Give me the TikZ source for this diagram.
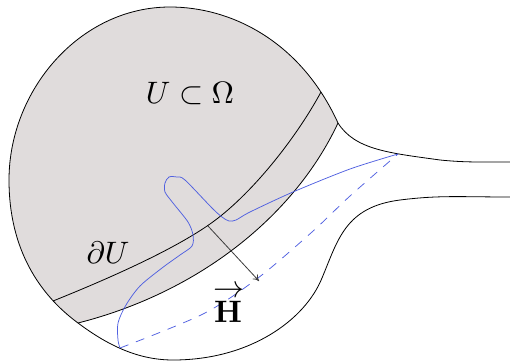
\documentclass[tikz,border=0pt]{standalone}
\usetikzlibrary{arrows.meta}
\definecolor{ufill}{RGB}{224,220,220}
\definecolor{curveblue}{RGB}{80,96,224}
\definecolor{arrowgray}{RGB}{60,60,60}
\tikzset{
  edge/.style={line width=0.8pt, black},
  bluecurve/.style={line width=0.75pt, curveblue},
  bluedash/.style={line width=0.75pt, curveblue, dash pattern=on 9pt off 8pt},
  harrow/.style={line width=0.8pt, arrowgray, -{To[length=6pt,width=7pt]}},
  biglabel/.style={scale=3.1, inner sep=0pt}
}
\begin{document}
\begin{tikzpicture}[x=1pt, y=-1pt]
\useasboundingbox (0,0) rectangle (510,361);
% shaded region U
\fill[ufill] (78,323) .. controls (200,292) and (295,215) .. (338,123)
  .. controls (300,40) and (230,7) .. (170,7)
  .. controls (80,7) and (9,90) .. (9,180)
  .. controls (9,250) and (40,295) .. (78,323) -- cycle;
% outer boundary
\draw[edge] (511,162) .. controls (480,162) and (465,162.5) .. (440,160)
  .. controls (390,153) and (355,150) .. (338,123)
  .. controls (300,40) and (230,7) .. (170,7)
  .. controls (80,7) and (9,90) .. (9,180)
  .. controls (9,250) and (40,295) .. (78,323)
  .. controls (110,347) and (140,360) .. (173,360)
  .. controls (250,360) and (305,320) .. (322,278)
  .. controls (338,240) and (345,207) .. (400,200)
  .. controls (440,195) and (460,197) .. (511,197);
% lower boundary of U
\draw[edge] (78,323) .. controls (200,292) and (295,215) .. (338,123);
% boundary dU
\draw[edge] (53,301) .. controls (130,270) and (180,245) .. (210,224)
  .. controls (250,196) and (295,140) .. (321,92);
% blue curves
\draw[bluecurve] plot[smooth, tension=0.5] coordinates {(398,154)(350,169)(293,192)(250,212)(236,220)(229,221)(222,217)(212,208)(185,180)(177,177)(169,177)(165,183)(165,192)(173,203)(188,222)(193,235)(192,246)(180,255)(162,268)(140,286)(126,305)(118,323)(118,340)(120,348)};
\draw[bluedash] plot[smooth, tension=0.5] coordinates {(120,348)(203,314)(258,278)(312,232)(350,196)(398,154)};
% arrow H
\coordinate (hstart) at (208,226);
\coordinate (hend) at (259,281);
\draw[harrow] (hstart) -- (hend);
% labels
\node[biglabel] (lab1) at (190,94) {$U\subset\Omega$};
\node[biglabel] (lab2) at (108,253) {$\partial U$};
\node[biglabel] (lab3) at (228,312) {$\mathbf{H}$};
\node[biglabel] (lab3arrow) at (229,292) {$\rightarrow$};
\end{tikzpicture}
\end{document}
